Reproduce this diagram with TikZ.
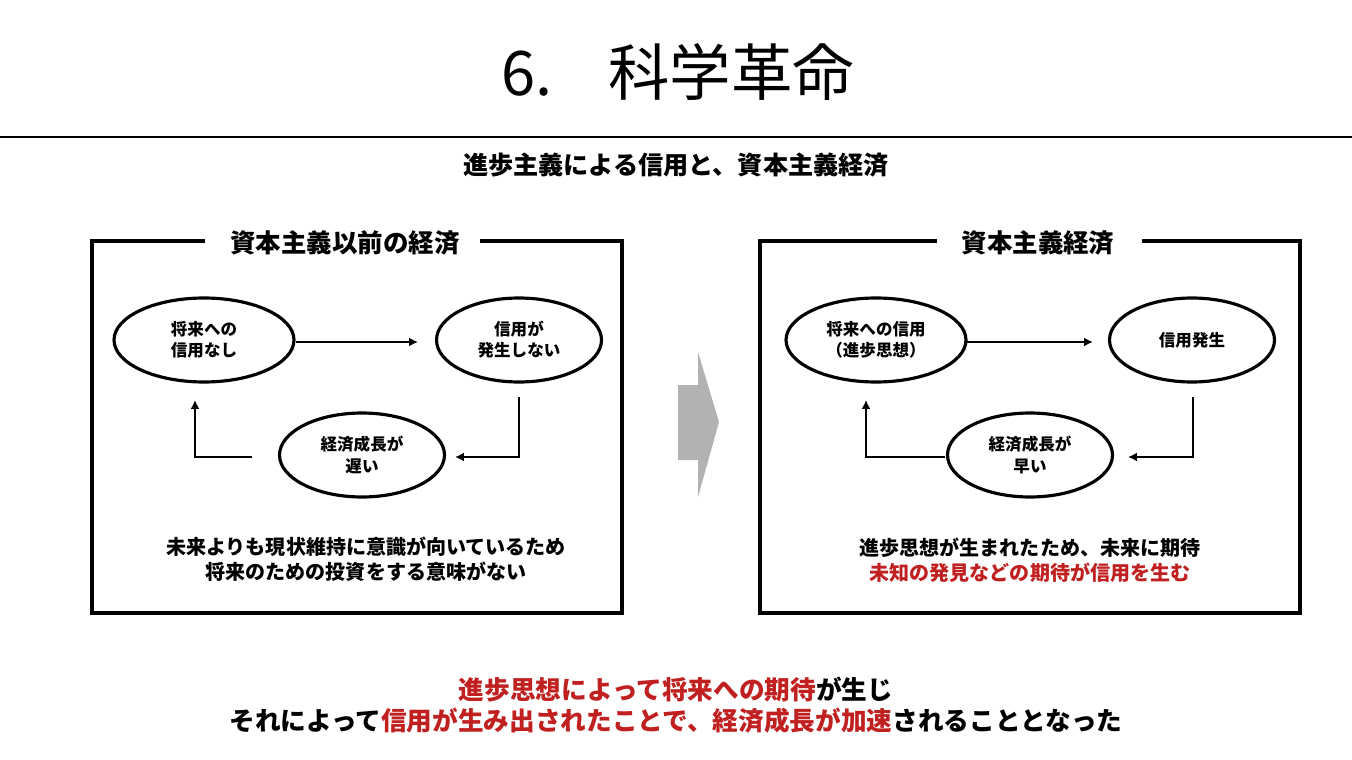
\documentclass[tikz,border=0pt]{standalone}
\usepackage{fontspec}
\setmainfont{Noto Sans CJK JP}
\usetikzlibrary{shapes.geometric,arrows.meta}
\definecolor{accent}{RGB}{192,32,32}
\tikzset{
  cycle/.style={ellipse, draw, line width=1.8pt, align=center, minimum height=1.68cm, font=\fontsize{9.4}{12}\selectfont\bfseries},
  flow/.style={-{Latex[length=5pt,width=5pt]}, line width=1.6pt},
  frame/.style={line width=1.8pt},
  boxtitle/.style={font=\fontsize{14.5}{17}\selectfont\bfseries}
}
\begin{document}
\begin{tikzpicture}[x=0.02cm,y=-0.02cm]
  \useasboundingbox (0,0) rectangle (1352,760);
  \node (title) at (678,72) {\fontsize{35}{40}\selectfont 6.\hspace{0.9em}科学革命};
  \draw[line width=1.6pt] (0,137) -- (1352,137);
  \node[font=\fontsize{14.3}{17}\selectfont\bfseries] (sub) at (676,165) {進歩主義による信用と、資本主義経済};
  % left box
  \draw[frame] (205,241) -- (92,241) -- (92,613) -- (622,613) -- (622,241) -- (480,241);
  \node[boxtitle] (lt) at (345,243) {資本主義以前の経済};
  \node[cycle, minimum width=3.6cm] (la) at (204,340) {将来への\\信用なし};
  \node[cycle, minimum width=3.3cm] (lb) at (519,340) {信用が\\発生しない};
  \node[cycle, minimum width=3.3cm] (lc) at (362,455) {経済成長が\\遅い};
  \coordinate (la1) at (296,342); \coordinate (lb1) at (418,342);
  \coordinate (lb2) at (519,397); \coordinate (lc1) at (455,457);
  \coordinate (lc2) at (252,457); \coordinate (la2) at (195,400);
  \draw[flow] (la1) -- (lb1);
  \draw[flow] (lb2) |- (lc1);
  \draw[flow] (lc2) -| (la2);
  \node[align=center, font=\fontsize{11.4}{14}\selectfont\bfseries] (lx) at (366,559) {未来よりも現状維持に意識が向いているため\\将来のための投資をする意味がない};
  % arrow between
  \fill[black!30] (678,385) -- (698,385) -- (698,352) -- (719,422) -- (698,497) -- (698,460) -- (678,460) -- cycle;
  % right box
  \draw[frame] (937,241) -- (760,241) -- (760,613) -- (1300,613) -- (1300,241) -- (1142,241);
  \node[boxtitle] (rt) at (1038,243) {資本主義経済};
  \node[cycle, minimum width=3.6cm] (ra) at (876,340) {将来への信用\\（進歩思想）};
  \node[cycle, minimum width=3.3cm] (rb) at (1192,340) {信用発生};
  \node[cycle, minimum width=3.3cm] (rc) at (1030,455) {経済成長が\\早い};
  \coordinate (ra1) at (966,342); \coordinate (rb1) at (1093,342);
  \coordinate (rb2) at (1193,397); \coordinate (rc1) at (1128,457);
  \coordinate (rc2) at (945,457); \coordinate (ra2) at (866,400);
  \draw[flow] (ra1) -- (rb1);
  \draw[flow] (rb2) |- (rc1);
  \draw[flow] (rc2) -| (ra2);
  \node[align=center, font=\fontsize{11.4}{14}\selectfont\bfseries] (rx) at (1030,560) {進歩思想が生まれたため、未来に期待\\\textcolor{accent}{未知の発見などの期待が信用を生む}};
  % bottom
  \node[align=center, font=\fontsize{14.6}{18}\selectfont\bfseries] (msg) at (676,705)
    {\textcolor{accent}{進歩思想によって将来への期待}が生じ\\それによって\textcolor{accent}{信用が生み出されたことで、経済成長が加速}されることとなった};
\end{tikzpicture}
\end{document}
